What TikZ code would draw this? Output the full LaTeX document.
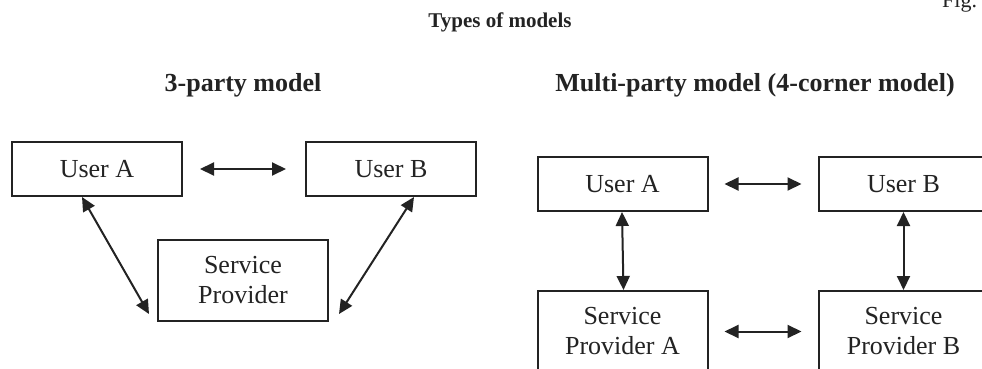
\documentclass[tikz,border=0pt]{standalone}
\usepackage{fontspec}
\setmainfont{Liberation Serif}
\usetikzlibrary{arrows.meta}
\definecolor{ink}{HTML}{232323}
\tikzset{
  box/.style={draw=ink, line width=2pt, rectangle, inner sep=0pt,
    minimum width=170pt, text=ink, align=center,
    font=\fontsize{26}{30}\selectfont},
  biarrow/.style={draw=ink, line width=2pt,
    {Triangle[length=14pt,width=13pt]}-{Triangle[length=14pt,width=13pt]}},
  heading/.style={text=ink, anchor=base, inner sep=0pt,
    font=\fontsize{26}{30}\selectfont\bfseries},
}
\begin{document}
\begin{tikzpicture}[x=1pt,y=-1pt]
  \clip (0,0) rectangle (982,369);
  \fill[white] (0,0) rectangle (982,369);

  % page furniture
  \node[text=ink, anchor=base west, inner sep=0pt,
        font=\fontsize{22}{26}\selectfont] (fig) at (942,8) {Fig.};
  \node[text=ink, anchor=base, inner sep=0pt,
        font=\fontsize{21}{25}\selectfont\bfseries] (title) at (500,28) {Types of models};

  % headings
  \node[heading] (h3) at (243,91) {3-party model};
  \node[heading] (h4) at (755,91) {Multi-party model (4-corner model)};

  % 3-party model
  \node[box, minimum height=54pt] (ua) at (97,169) {User A};
  \node[box, minimum height=54pt] (ub) at (391,169) {User B};
  \node[box, minimum height=81pt] (sp) at (243,280.5) {Service\\Provider};

  \draw[biarrow, shorten <=17pt, shorten >=19pt] (ua.east) -- (ub.west);
  \draw[biarrow] ([xshift=71pt]ua.south west) -- ([shift={(-8,-8)}]sp.south west);
  \draw[biarrow] ([xshift=109pt]ub.south west) -- ([shift={(10,-8)}]sp.south east);

  % 4-corner model
  \node[box, minimum height=54pt] (ua4) at (622.5,184) {User A};
  \node[box, minimum height=54pt] (ub4) at (903.5,184) {User B};
  \node[box, minimum height=81pt] (spa) at (622.5,331.5) {Service\\Provider A};
  \node[box, minimum height=81pt] (spb) at (903.5,331.5) {Service\\Provider B};

  \draw[biarrow, shorten <=16pt, shorten >=16pt] (ua4.east) -- (ub4.west);
  \draw[biarrow, shorten <=16pt, shorten >=16pt] (spa.east) -- (spb.west);
  \draw[biarrow] ([xshift=-0.5pt]ua4.south) -- ([xshift=1pt]spa.north);
  \draw[biarrow] (ub4.south) -- (spb.north);
\end{tikzpicture}
\end{document}
